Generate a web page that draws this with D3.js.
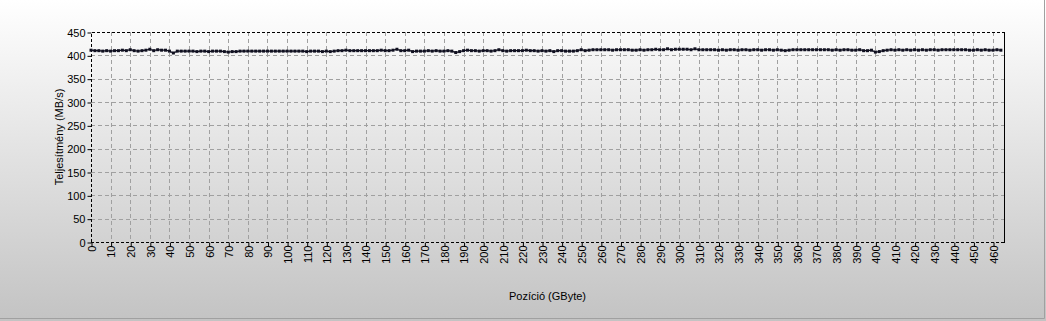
<!DOCTYPE html>
<html>
<head>
<meta charset="UTF-8">
<title>Teljesítmény</title>
<style>
  body { margin: 0; overflow: hidden; }
  text { font-family: Arial, "Liberation Sans", sans-serif; }
</style>
</head>
<body>
<svg width="1046" height="321"></svg>
<script src="https://cdn.jsdelivr.net/npm/d3@7"></script>
<script>
// mért értékek, 2 GB-onként (0..464)
var speeds = [
  411,410,410,409,410,409,410,410,411,410,
  412,410,409,410,411,413,410,412,411,411,
  409,405,409,409,409,409,409,408,409,409,
  408,409,409,409,408,407,408,408,409,409,
  409,409,409,409,409,409,409,409,409,409,
  409,409,409,409,409,408,409,409,409,408,
  409,408,409,410,410,411,410,410,410,410,
  410,410,410,410,411,410,410,411,413,410,
  410,411,408,409,409,409,410,409,410,409,
  409,410,409,406,408,410,411,410,410,409,
  410,410,409,410,412,410,409,410,410,410,
  410,411,410,410,409,410,409,410,408,410,
  410,409,409,409,410,412,410,411,412,412,
  412,412,412,411,412,412,412,412,411,411,
  412,411,412,412,413,412,412,414,412,413,
  413,413,413,412,414,412,412,412,412,412,
  411,412,411,412,412,411,412,412,411,412,
  412,411,412,412,411,412,411,410,411,412,
  412,412,412,412,412,412,412,412,412,411,
  412,411,412,412,411,411,412,410,410,411,
  407,408,410,411,412,411,412,411,412,411,
  412,411,412,411,412,412,411,412,412,412,
  412,412,412,412,411,411,412,411,412,411,
  411,412,411
];
var positions = speeds.map(function(d, i) { return i * 2; });
var xTicks = d3.range(0, 461, 10);
var yTicks = d3.range(0, 451, 50);
var xMax = 465.6, yMax = 450;

var svg = d3.select("svg");
var W = 1046, H = 321;
var pLeft = 91, pTop = 32, pRight = 1004, pBottom = 242;

// háttér színátmenet
var defs = svg.append("defs");
var grad = defs.append("linearGradient").attr("id", "bg")
  .attr("x1", 0).attr("y1", 0).attr("x2", 0).attr("y2", 1);
grad.append("stop").attr("offset", "0%").attr("stop-color", "#ffffff");
grad.append("stop").attr("offset", "100%").attr("stop-color", "#c3c3c3");
svg.append("rect").attr("width", W).attr("height", H).attr("fill", "url(#bg)");
// keret jobb és alsó széle
svg.append("path").attr("d", "M1044.5,0V318.5H0")
  .attr("fill", "none").attr("stroke", "#a0a0a0");

var x = d3.scaleLinear().domain([0, xMax]).range([pLeft, pRight]);
var y = d3.scaleLinear().domain([0, yMax]).range([pBottom, pTop]);

var g = svg.append("g");

// rácsvonalak
g.selectAll(".vg").data(xTicks.slice(1)).enter().append("line")
  .attr("x1", function(d) { return Math.round(x(d)) + 0.5; })
  .attr("x2", function(d) { return Math.round(x(d)) + 0.5; })
  .attr("y1", pTop).attr("y2", pBottom)
  .attr("stroke", "#a0a0a0").attr("stroke-dasharray", "4,3");
g.selectAll(".hg").data(yTicks.slice(1, -1)).enter().append("line")
  .attr("y1", function(d) { return Math.round(y(d)) + 0.5; })
  .attr("y2", function(d) { return Math.round(y(d)) + 0.5; })
  .attr("x1", pLeft).attr("x2", pRight)
  .attr("stroke", "#a0a0a0").attr("stroke-dasharray", "4,3");

// plot keret
g.append("path").attr("d", "M" + (pLeft + 0.5) + "," + pBottom + "V" + (pTop + 0.5) + "H" + pRight)
  .attr("fill", "none").attr("stroke", "#000").attr("stroke-dasharray", "3,2");
g.append("line").attr("x1", pLeft).attr("x2", pRight).attr("y1", pBottom + 0.5).attr("y2", pBottom + 0.5)
  .attr("stroke", "#000").attr("stroke-dasharray", "3,2");
g.append("line").attr("x1", pRight + 0.5).attr("x2", pRight + 0.5).attr("y1", pTop).attr("y2", pBottom + 1)
  .attr("stroke", "#000");

// tengelyek
var yAxis = d3.axisLeft(y).tickValues(yTicks).tickSize(4).tickPadding(2);
var ya = svg.append("g").attr("transform", "translate(" + (pLeft + 0.5) + ",0.5)").call(yAxis);
ya.select(".domain").remove();
ya.selectAll("text").attr("font-size", 11).attr("fill", "#000").attr("font-family", "Arial, 'Liberation Sans', sans-serif");

var xAxis = d3.axisBottom(x).tickValues(xTicks).tickSize(4);
var xa = svg.append("g").attr("transform", "translate(0.5," + (pBottom + 0.5) + ")").call(xAxis);
xa.select(".domain").remove();
xa.selectAll("text")
  .attr("font-size", 11).attr("fill", "#000").attr("font-family", "Arial, 'Liberation Sans', sans-serif")
  .attr("transform", "rotate(-90)")
  .attr("text-anchor", "end")
  .attr("x", -3).attr("y", 0).attr("dy", "0.35em");

// adatsor
var line = d3.line()
  .x(function(d, i) { return x(positions[i]); })
  .y(function(d) { return y(d); });
g.append("path").datum(speeds).attr("d", line)
  .attr("fill", "none").attr("stroke", "#101020").attr("stroke-width", 1.2);
g.selectAll(".pt").data(speeds).enter().append("rect")
  .attr("x", function(d, i) { return x(positions[i]) - 1.5; })
  .attr("y", function(d) { return y(d) - 1.5; })
  .attr("width", 3).attr("height", 3)
  .attr("fill", "#101020");

// tengelycímek
svg.append("text").attr("x", (pLeft + pRight) / 2).attr("y", 300)
  .attr("text-anchor", "middle").attr("font-size", 11).text("Pozíció (GByte)");
svg.append("text")
  .attr("transform", "translate(63," + ((pTop + pBottom) / 2) + ") rotate(-90)")
  .attr("text-anchor", "middle").attr("font-size", 11).text("Teljesítmény (MB/s)");
</script>
</body>
</html>
